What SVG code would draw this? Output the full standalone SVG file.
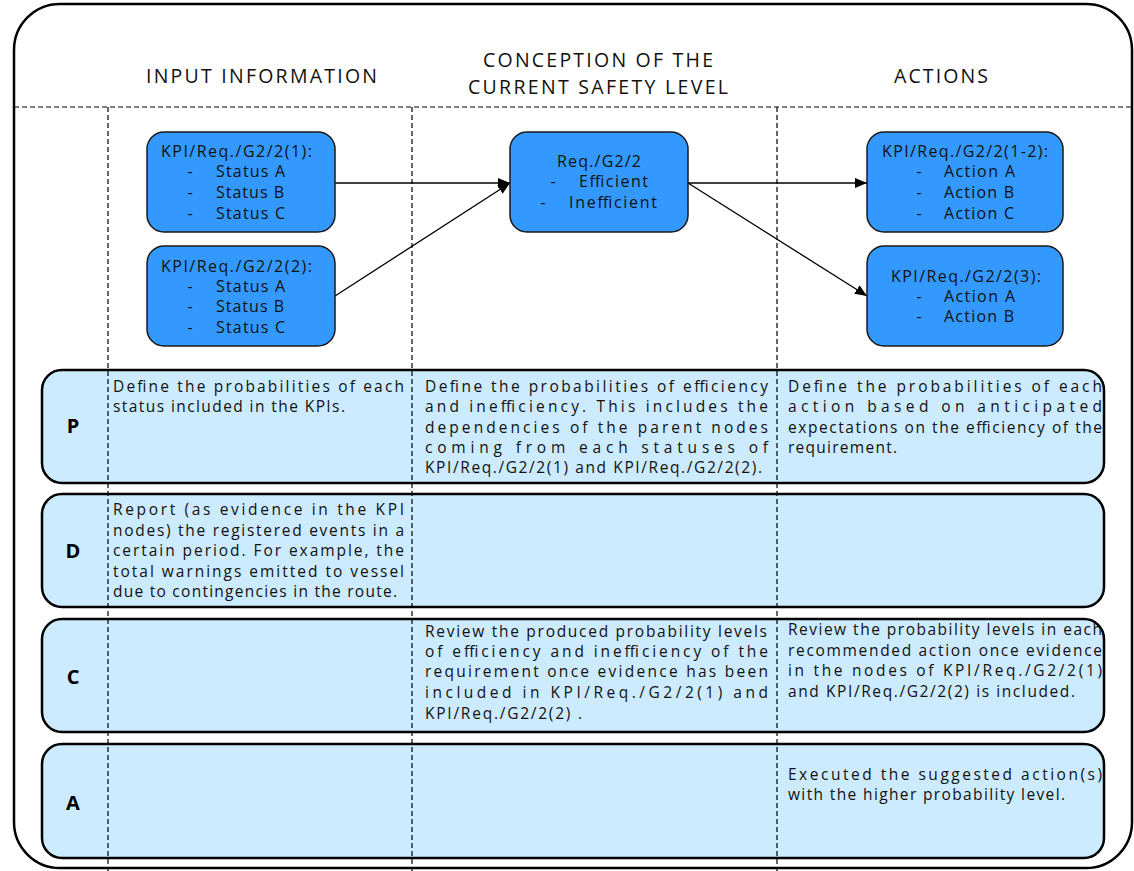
<svg xmlns="http://www.w3.org/2000/svg" width="1134" height="871" viewBox="0 0 1134 871">
<style>
.frame{fill:#fff;stroke:#000;stroke-width:2.5}
.dash{stroke:#000;stroke-width:1.2;stroke-dasharray:5 3;fill:none}
.title{font-family:"Open Sans","DejaVu Sans",sans-serif;font-size:19.5px;fill:#111}
.node rect{fill:#3399FF;stroke:#1a1a1a;stroke-width:1.5}
.nt{font-family:"Open Sans","DejaVu Sans",sans-serif;font-size:16px;fill:#111}
.row{fill:#CCEBFF;stroke:#000;stroke-width:2.5}
.lt{font-family:"Open Sans","DejaVu Sans",sans-serif;font-size:20px;font-weight:bold;fill:#000;text-anchor:middle}
.bt{font-family:"Open Sans","DejaVu Sans",sans-serif;font-size:15.5px;fill:#111}
.conn{stroke:#000;stroke-width:1.3;fill:none;marker-end:url(#ah)}
</style>
<defs>
<marker id="ah" markerWidth="13" markerHeight="10" refX="12" refY="5" orient="auto" markerUnits="userSpaceOnUse">
<path d="M0,0 L12,5 L0,10 Z" fill="#000"/>
</marker>
</defs>
<rect class="frame" x="14" y="4" width="1118" height="864" rx="46" ry="46"/>
<g id="titles">
<text class="title" x="146" y="83" textLength="231" lengthAdjust="spacing">INPUT INFORMATION</text>
<text class="title" x="483" y="67" textLength="230" lengthAdjust="spacing">CONCEPTION OF THE</text>
<text class="title" x="468" y="94" textLength="260" lengthAdjust="spacing">CURRENT SAFETY LEVEL</text>
<text class="title" x="894" y="83" textLength="94" lengthAdjust="spacing">ACTIONS</text>
</g>
<g id="row-P">
<rect class="row" x="42" y="370" width="1062" height="113" rx="20" ry="20"/>
<text class="lt" x="73" y="433">P</text>
<text class="bt" x="113" y="392" textLength="291" lengthAdjust="spacing">Define the probabilities of each</text>
<text class="bt" x="113" y="412" textLength="232" lengthAdjust="spacing">status included in the KPIs.</text>
<text class="bt" x="425" y="392" textLength="343" lengthAdjust="spacing">Define the probabilities of efficiency</text>
<text class="bt" x="425" y="412" textLength="343" lengthAdjust="spacing">and inefficiency. This includes the</text>
<text class="bt" x="425" y="433" textLength="343" lengthAdjust="spacing">dependencies of the parent nodes</text>
<text class="bt" x="425" y="453" textLength="343" lengthAdjust="spacing">coming from each statuses of</text>
<text class="bt" x="425" y="473" textLength="337" lengthAdjust="spacing">KPI/Req./G2/2(1) and KPI/Req./G2/2(2).</text>
<text class="bt" x="788" y="392" textLength="314" lengthAdjust="spacing">Define the probabilities of each</text>
<text class="bt" x="788" y="412" textLength="314" lengthAdjust="spacing">action based on anticipated</text>
<text class="bt" x="788" y="433" textLength="314" lengthAdjust="spacing">expectations on the efficiency of the</text>
<text class="bt" x="788" y="453" textLength="109" lengthAdjust="spacing">requirement.</text>
</g>
<g id="row-D">
<rect class="row" x="42" y="494" width="1062" height="113" rx="20" ry="20"/>
<text class="lt" x="73" y="558">D</text>
<text class="bt" x="113" y="515" textLength="291" lengthAdjust="spacing">Report (as evidence in the KPI</text>
<text class="bt" x="113" y="536" textLength="291" lengthAdjust="spacing">nodes) the registered events in a</text>
<text class="bt" x="113" y="556" textLength="291" lengthAdjust="spacing">certain period. For example, the</text>
<text class="bt" x="113" y="577" textLength="291" lengthAdjust="spacing">total warnings emitted to vessel</text>
<text class="bt" x="113" y="597" textLength="284" lengthAdjust="spacing">due to contingencies in the route.</text>
</g>
<g id="row-C">
<rect class="row" x="42" y="619" width="1062" height="113" rx="20" ry="20"/>
<text class="lt" x="73" y="684">C</text>
<text class="bt" x="425" y="637" textLength="342" lengthAdjust="spacing">Review the produced probability levels</text>
<text class="bt" x="425" y="657" textLength="343" lengthAdjust="spacing">of efficiency and inefficiency of the</text>
<text class="bt" x="425" y="677" textLength="343" lengthAdjust="spacing">requirement once evidence has been</text>
<text class="bt" x="425" y="698" textLength="343" lengthAdjust="spacing">included in KPI/Req./G2/2(1) and</text>
<text class="bt" x="425" y="719" textLength="157" lengthAdjust="spacing">KPI/Req./G2/2(2) .</text>
<text class="bt" x="788" y="635" textLength="314" lengthAdjust="spacing">Review the probability levels in each</text>
<text class="bt" x="788" y="656" textLength="314" lengthAdjust="spacing">recommended action once evidence</text>
<text class="bt" x="788" y="676" textLength="314" lengthAdjust="spacing">in the nodes of KPI/Req./G2/2(1)</text>
<text class="bt" x="788" y="697" textLength="287" lengthAdjust="spacing">and KPI/Req./G2/2(2) is included.</text>
</g>
<g id="row-A">
<rect class="row" x="42" y="744" width="1062" height="114" rx="20" ry="20"/>
<text class="lt" x="73" y="810">A</text>
<text class="bt" x="788" y="780" textLength="314" lengthAdjust="spacing">Executed the suggested action(s)</text>
<text class="bt" x="788" y="800" textLength="277" lengthAdjust="spacing">with the higher probability level.</text>
</g>
<g id="grid">
<line class="dash" x1="14" y1="107" x2="1132" y2="107"/>
<line class="dash" x1="108" y1="107" x2="108" y2="871"/>
<line class="dash" x1="412" y1="107" x2="412" y2="871"/>
<line class="dash" x1="777" y1="107" x2="777" y2="871"/>
</g>
<g id="connectors">
<line class="conn" x1="335" y1="183" x2="510" y2="183"/>
<line class="conn" x1="335" y1="296" x2="510" y2="183"/>
<line class="conn" x1="688" y1="183" x2="867" y2="183"/>
<line class="conn" x1="688" y1="183" x2="867" y2="296"/>
</g>
<g id="kpi1" class="node">
<rect x="147" y="132" width="188" height="100" rx="17" ry="17"/>
<text class="nt" x="161" y="157" textLength="151" lengthAdjust="spacing">KPI/Req./G2/2(1):</text>
<text class="nt" x="190" y="177" text-anchor="middle">-</text>
<text class="nt" x="216" y="177" textLength="69" lengthAdjust="spacing">Status A</text>
<text class="nt" x="190" y="198" text-anchor="middle">-</text>
<text class="nt" x="216" y="198" textLength="68" lengthAdjust="spacing">Status B</text>
<text class="nt" x="190" y="219" text-anchor="middle">-</text>
<text class="nt" x="216" y="219" textLength="69" lengthAdjust="spacing">Status C</text>
</g>
<g id="kpi2" class="node">
<rect x="147" y="246" width="188" height="100" rx="17" ry="17"/>
<text class="nt" x="161" y="272" textLength="151" lengthAdjust="spacing">KPI/Req./G2/2(2):</text>
<text class="nt" x="190" y="292" text-anchor="middle">-</text>
<text class="nt" x="216" y="292" textLength="69" lengthAdjust="spacing">Status A</text>
<text class="nt" x="190" y="312" text-anchor="middle">-</text>
<text class="nt" x="216" y="312" textLength="68" lengthAdjust="spacing">Status B</text>
<text class="nt" x="190" y="333" text-anchor="middle">-</text>
<text class="nt" x="216" y="333" textLength="69" lengthAdjust="spacing">Status C</text>
</g>
<g id="req" class="node">
<rect x="510" y="132" width="178" height="100" rx="17" ry="17"/>
<text class="nt" x="557" y="167" textLength="84" lengthAdjust="spacing">Req./G2/2</text>
<text class="nt" x="553" y="187" text-anchor="middle">-</text>
<text class="nt" x="579" y="187" textLength="69" lengthAdjust="spacing">Efficient</text>
<text class="nt" x="543" y="208" text-anchor="middle">-</text>
<text class="nt" x="569" y="208" textLength="88" lengthAdjust="spacing">Inefficient</text>
</g>
<g id="act12" class="node">
<rect x="867" y="132" width="196" height="100" rx="17" ry="17"/>
<text class="nt" x="882" y="157" textLength="166" lengthAdjust="spacing">KPI/Req./G2/2(1-2):</text>
<text class="nt" x="919" y="177" text-anchor="middle">-</text>
<text class="nt" x="944" y="177" textLength="71" lengthAdjust="spacing">Action A</text>
<text class="nt" x="919" y="198" text-anchor="middle">-</text>
<text class="nt" x="944" y="198" textLength="70" lengthAdjust="spacing">Action B</text>
<text class="nt" x="919" y="219" text-anchor="middle">-</text>
<text class="nt" x="944" y="219" textLength="70" lengthAdjust="spacing">Action C</text>
</g>
<g id="act3" class="node">
<rect x="867" y="246" width="196" height="100" rx="17" ry="17"/>
<text class="nt" x="891" y="282" textLength="150" lengthAdjust="spacing">KPI/Req./G2/2(3):</text>
<text class="nt" x="919" y="302" text-anchor="middle">-</text>
<text class="nt" x="944" y="302" textLength="71" lengthAdjust="spacing">Action A</text>
<text class="nt" x="919" y="322" text-anchor="middle">-</text>
<text class="nt" x="944" y="322" textLength="70" lengthAdjust="spacing">Action B</text>
</g>
</svg>
